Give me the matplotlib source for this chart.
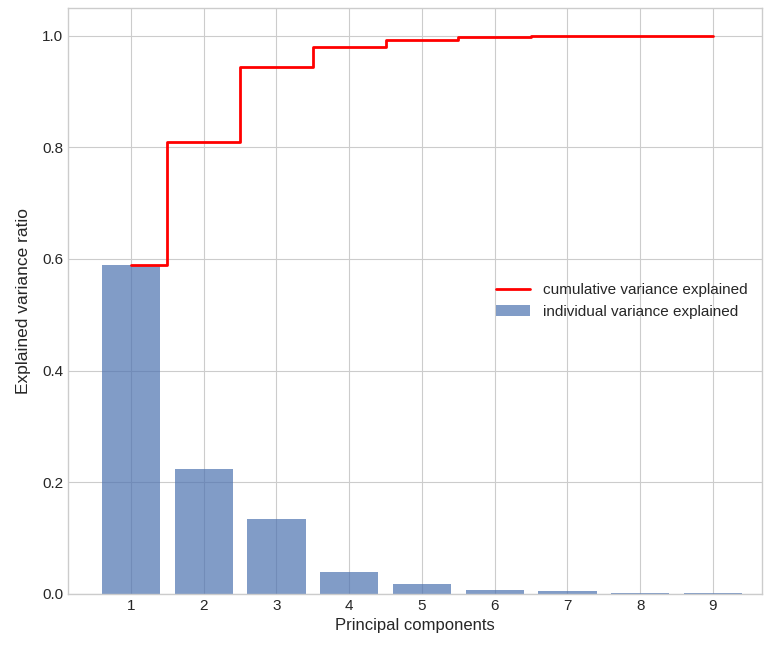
import matplotlib
matplotlib.use("Agg")
import matplotlib.pyplot as plt
import numpy as np

plt.style.use("seaborn-v0_8-whitegrid")
plt.rcParams["font.family"] = ["Liberation Sans", "DejaVu Sans"]

# ---- data ---------------------------------------------------------------
components = [1, 2, 3, 4, 5, 6, 7, 8, 9]
individual = [0.589, 0.223, 0.134, 0.039, 0.017, 0.007, 0.004, 0.001, 0.0005]
cumulative = [0.589, 0.810, 0.944, 0.980, 0.992, 0.997, 1.000, 1.000, 1.000]

fig = plt.figure(figsize=(7.64, 6.51), dpi=100)
ax = fig.add_axes((0.089, 0.088, 0.908, 0.900))

ax.bar(components, individual, width=0.8, alpha=0.7, color="#4C72B0",
       align="center", label="individual variance explained")
ax.step(components, cumulative, where="mid", color="red", lw=2,
        label="cumulative variance explained")

ax.set_xlim(0.134, 9.67)
ax.set_xticks(components)
ax.set_ylabel("Explained variance ratio", fontsize=12.5, labelpad=8)
ax.set_xlabel("Principal components", fontsize=12)
ax.tick_params(labelsize=11)
for s in ax.spines.values():
    s.set_visible(True)
    s.set_color("#cccccc")
ax.legend(loc="center right", fontsize=11, frameon=False,
          handlelength=2.2, handletextpad=0.9)

fig.savefig("out.png", dpi=100)
